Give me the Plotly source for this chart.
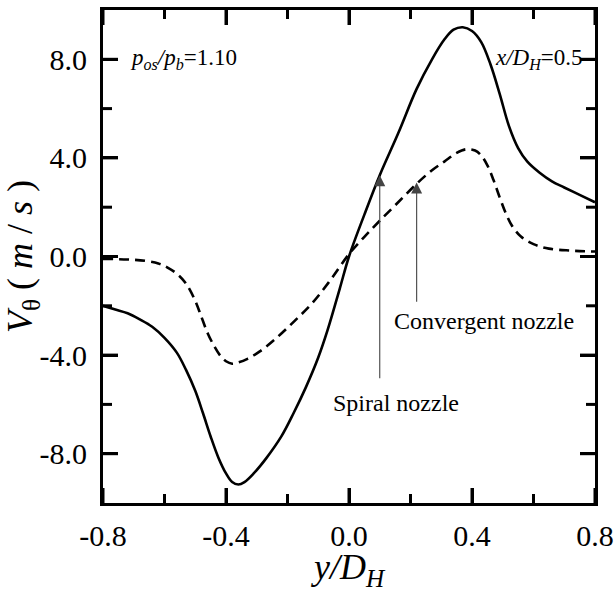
import plotly.graph_objects as go

# ---- data ----
spiral_x = [-0.8, -0.76, -0.72, -0.68, -0.64, -0.6, -0.56, -0.53, -0.5, -0.475, -0.45, -0.425,
            -0.4, -0.38, -0.36, -0.34, -0.31, -0.27, -0.22, -0.18, -0.14, -0.1, -0.07,
            -0.03, 0.0, 0.05, 0.1, 0.16, 0.22, 0.27, 0.31, 0.34, 0.37, 0.40, 0.43,
            0.46, 0.49, 0.52, 0.55, 0.58, 0.62, 0.66, 0.70, 0.75, 0.80]
spiral_y = [-2.0, -2.15, -2.3, -2.55, -2.85, -3.3, -3.9, -4.6, -5.45, -6.35, -7.3, -8.15,
            -8.8, -9.15, -9.25, -9.15, -8.8, -8.2, -7.3, -6.35, -5.3, -4.1, -3.0,
            -1.3, 0.0, 1.7, 3.3, 5.0, 6.8, 8.0, 8.8, 9.2, 9.3, 9.15, 8.7,
            7.8, 6.6, 5.3, 4.4, 3.85, 3.4, 3.05, 2.8, 2.5, 2.2]

conv_x = [-0.8, -0.72, -0.66, -0.62, -0.59, -0.56, -0.53, -0.5, -0.48, -0.46, -0.44, -0.42,
          -0.4, -0.38, -0.36, -0.33, -0.29, -0.24, -0.18, -0.12, -0.06, 0.0, 0.05, 0.1,
          0.16, 0.22, 0.27, 0.31, 0.35, 0.38, 0.41, 0.43, 0.45, 0.47, 0.49, 0.51,
          0.53, 0.56, 0.60, 0.65, 0.72, 0.80]
conv_y = [-0.1, -0.12, -0.18, -0.28, -0.45, -0.7, -1.1, -1.8, -2.45, -3.1, -3.6, -4.0,
          -4.25, -4.35, -4.3, -4.15, -3.85, -3.35, -2.65, -1.9, -0.95, 0.1, 0.8, 1.45,
          2.2, 2.95, 3.5, 3.85, 4.2, 4.35, 4.3, 4.1, 3.7, 3.1, 2.4, 1.75,
          1.25, 0.8, 0.5, 0.32, 0.24, 0.2]

x_tick_vals = [-0.8, -0.4, 0.0, 0.4, 0.8]
x_tick_text = ["-0.8", "-0.4", "0.0", "0.4", "0.8"]
x_minor_vals = [-0.6, -0.2, 0.2, 0.6]
y_tick_vals = [-8, -4, 0, 4, 8]
y_tick_text = ["-8.0", "-4.0", "0.0", "4.0", "8.0"]
y_minor_vals = [-6, -2, 2, 6]

spiral_label = "Spiral nozzle"
conv_label = "Convergent nozzle"
spiral_arrow = dict(head=(0.10, 3.3), tail=(0.10, -5.0), text=(0.153, -5.95))
conv_arrow = dict(head=(0.22, 3.0), tail=(0.22, -1.9), text=(0.439, -2.62))

X_RANGE = [-0.8, 0.8]
Y_RANGE = [-10, 10]
FONT = "Liberation Serif, Times New Roman, serif"
MAJOR_LEN, MINOR_LEN, TICK_W = 15, 9, 3

fig = go.Figure()
fig.add_trace(go.Scatter(x=spiral_x, y=spiral_y, mode="lines", name=spiral_label,
                         line=dict(color="black", width=2.6, shape="spline", smoothing=1.0)))
fig.add_trace(go.Scatter(x=conv_x, y=conv_y, mode="lines", name=conv_label,
                         line=dict(color="black", width=2.6, dash="10px,6px",
                                   shape="spline", smoothing=1.0)))

# inside tick marks on all four frame sides, drawn as pixel-sized shapes anchored at the ticks
shapes = []
for vals, length in ((x_tick_vals, MAJOR_LEN), (x_minor_vals, MINOR_LEN)):
    for v in vals:
        for edge, sign in ((Y_RANGE[0], 1), (Y_RANGE[1], -1)):
            shapes.append(dict(type="line", xref="x", yref="y", ysizemode="pixel", yanchor=edge,
                               x0=v, x1=v, y0=0, y1=sign * length, layer="above",
                               line=dict(color="black", width=TICK_W)))
for vals, length in ((y_tick_vals, MAJOR_LEN), (y_minor_vals, MINOR_LEN)):
    for v in vals:
        for edge, sign in ((X_RANGE[0], 1), (X_RANGE[1], -1)):
            shapes.append(dict(type="line", xref="x", yref="y", xsizemode="pixel", xanchor=edge,
                               y0=v, y1=v, x0=0, x1=sign * length, layer="above",
                               line=dict(color="black", width=TICK_W)))

axis_common = dict(showline=True, linecolor="black", linewidth=3, mirror="ticks",
                   ticks="inside", ticklen=MAJOR_LEN, tickwidth=TICK_W, tickcolor="black",
                   showgrid=False, zeroline=False, automargin=False,
                   tickfont=dict(family=FONT, size=30, color="black"))

fig.update_layout(
    template="none",
    xaxis=dict(range=X_RANGE, tickmode="array", tickvals=x_tick_vals, ticktext=x_tick_text,
               ticklabelstandoff=4,
               title=dict(text="<i>y/D</i><sub><i>H</i></sub>", standoff=8,
                          font=dict(family=FONT, size=36, color="black")),
               **axis_common),
    yaxis=dict(range=Y_RANGE, tickmode="array", tickvals=y_tick_vals, ticktext=y_tick_text,
               ticklabelstandoff=7,
               title=dict(text="<i>V</i><sub>θ</sub> ( <i>m</i> / <i>s</i> )", standoff=0,
                          font=dict(family=FONT, size=36, color="black")),
               **axis_common),
)

annotations = []
for arr in (spiral_arrow, conv_arrow):
    annotations.append(dict(x=arr["head"][0], y=arr["head"][1], ax=arr["tail"][0], ay=arr["tail"][1],
                            xref="x", yref="y", axref="x", ayref="y", text="", showarrow=True,
                            arrowhead=2, arrowsize=2, arrowwidth=1.1, arrowcolor="#444"))
annotations.append(dict(x=spiral_arrow["text"][0], y=spiral_arrow["text"][1], xref="x", yref="y",
                        text=spiral_label, showarrow=False, xanchor="center", yanchor="middle",
                        font=dict(family=FONT, size=24, color="black")))
annotations.append(dict(x=conv_arrow["text"][0], y=conv_arrow["text"][1], xref="x", yref="y",
                        text=conv_label, showarrow=False, xanchor="center", yanchor="middle",
                        font=dict(family=FONT, size=24, color="black")))
annotations.append(dict(x=-0.72, y=8.0, xref="x", yref="y", xanchor="left", yanchor="middle",
                        text="<i>p</i><sub><i>os</i></sub><i>/p</i><sub><i>b</i></sub>=1.10",
                        showarrow=False, font=dict(family=FONT, size=23, color="black")))
annotations.append(dict(x=0.767, y=8.0, xref="x", yref="y", xanchor="right", yanchor="middle",
                        text="<i>x/D</i><sub><i>H</i></sub>=0.5",
                        showarrow=False, font=dict(family=FONT, size=23, color="black")))

fig.update_layout(width=616, height=592, margin=dict(l=103, r=21, t=10, b=89),
                  plot_bgcolor="white", paper_bgcolor="white", showlegend=False,
                  annotations=annotations, shapes=shapes, font=dict(family=FONT, color="black"))

fig.write_html("out.html")
